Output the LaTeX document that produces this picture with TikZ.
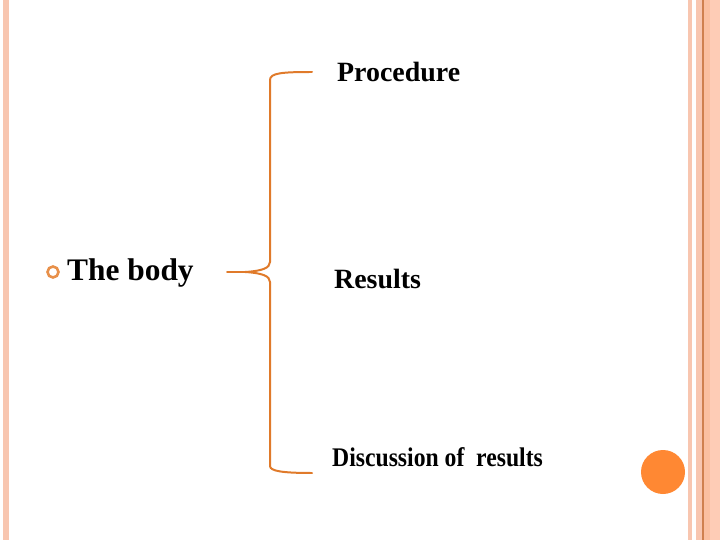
\documentclass[tikz,border=0pt]{standalone}
\usepackage{fontspec}
\setmainfont{Liberation Serif}
\definecolor{stripe}{HTML}{F8C6B0}
\definecolor{stripeB}{HTML}{FBBFA0}
\definecolor{stripeC}{HTML}{FECCB6}
\definecolor{stripeline}{HTML}{D0804E}
\definecolor{bracecol}{HTML}{E07A2A}
\definecolor{bulletcol}{HTML}{E8904A}
\definecolor{dotcol}{HTML}{FF8833}
\tikzset{
  lbl/.style={inner sep=0pt, anchor=base west, font=\bfseries},
  bracestyle/.style={draw=bracecol, line width=2pt, line cap=round, line join=round}
}
\begin{document}
\begin{tikzpicture}[x=1bp,y=-1bp]
\useasboundingbox[fill=white] (0,0) rectangle (720,540);
% border stripes
\fill[stripe] (3,0) rectangle (9,540);
\fill[stripe] (688,0) rectangle (692,540);
\fill[stripe] (696,0) rectangle (702,540);
\fill[stripeline] (702,0) rectangle (703.5,540);
\fill[stripeB] (703.5,0) rectangle (710,540);
\fill[stripeC] (710,0) rectangle (720,540);
% decorative dot
\fill[dotcol] (663,472) circle (22);
% texts
\node[lbl, font=\bfseries\fontsize{31.5}{34}\selectfont] (body) at (67,281) {The body};
\node[draw=bulletcol, line width=2.6pt, circle, minimum size=11bp, inner sep=0pt] (bullet) at (53,272) {};
\node[lbl, font=\bfseries\fontsize{28}{32}\selectfont] (proc) at (337,82) {Procedure};
\node[lbl, font=\bfseries\fontsize{28}{32}\selectfont] (res) at (334,288) {Results};
\node[lbl] (disc) at (332,466) {\scalebox{0.88}[1]{\fontsize{27}{30}\selectfont Discussion of\ \ results}};
% brace
\coordinate (tip) at (245,272);
\coordinate (tail) at (227,272);
\draw[bracestyle] (312,72) .. controls (282,72) and (270,73) .. (270,80)
  -- (270,262) .. controls (270,268) and (262,271) .. (tip)
  .. controls (262,273) and (270,276) .. (270,282)
  -- (270,466) .. controls (270,471) and (282,473) .. (312,473);
\draw[bracestyle] (tail) -- (tip);
\draw[bracestyle, line width=3pt] (242,272) -- (252,272);
\end{tikzpicture}
\end{document}
